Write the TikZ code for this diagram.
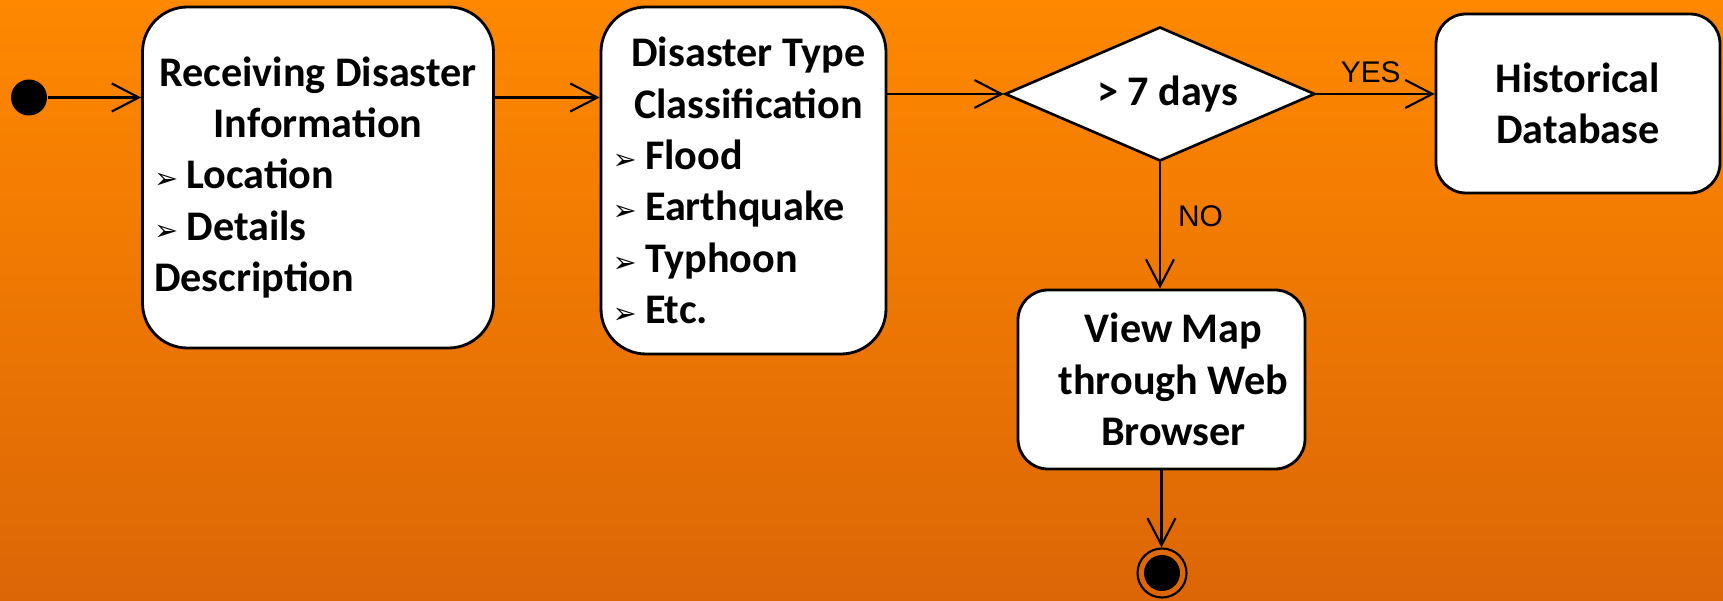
\documentclass[tikz,border=0pt]{standalone}
\usepackage{fontspec}
\setmainfont{Carlito}
\newfontfamily\labelfont{Liberation Sans}
\newfontfamily\symfont{DejaVu Sans}
\usetikzlibrary{arrows.meta,shapes.geometric,positioning}

\definecolor{bgtop}{RGB}{255,136,0}
\definecolor{bgbot}{RGB}{220,102,6}

\newcommand{\bul}{\makebox[0.325cm][l]{\symfont\fontsize{8.2}{8.2}\selectfont ➢}}

\begin{document}
\begin{tikzpicture}[
  font=\bfseries\fontsize{12}{14.6}\selectfont,
  box/.style={draw, line width=0.8pt, fill=white, rounded corners=0.45cm, align=center, inner sep=0pt},
  listbox/.style={box, align=flush left, inner xsep=0.115cm},
  smallbox/.style={box, rounded corners=0.3cm, minimum width=2.86cm, minimum height=1.79cm},
  decision/.style={diamond, aspect=2.3, draw, line width=0.75pt, fill=white, inner sep=0pt, minimum width=3.1cm, minimum height=1.34cm},
  initial/.style={circle, fill=black, inner sep=0pt, minimum size=0.36cm},
  final/.style={circle, draw, line width=0.6pt, inner sep=0pt, minimum size=0.49cm,
    path picture={\fill (path picture bounding box.center) circle (0.18cm);}},
  lbl/.style={font=\labelfont\fontsize{8.5}{10}\selectfont, inner sep=0pt},
  arr/.style={-{Straight Barb[length=0.27cm, width=0.28cm]}, line width=0.6pt}
]
% background
\shade[top color=bgtop, bottom color=bgbot] (0,0) rectangle (17.23,-6.01);

\node[initial] (start) at (0.29,-0.975) {};
\node[listbox, text width=3.28cm, minimum height=3.41cm] (recv) at (3.18,-1.775) {%
  {\centering Receiving Disaster\\Information\par}
  \bul Location\\
  \bul Details\\
  Description};
\node[listbox, text width=2.62cm, minimum height=3.47cm] (classif) at (7.435,-1.805) {%
  {\centering\hspace*{0.1cm}Disaster Type\\\hspace*{0.1cm}Classification\par}
  \bul Flood\\
  \bul Earthquake\\
  \bul Typhoon\\
  \bul Etc.};
\node[decision] (dec) at (11.6,-0.94) {\hspace*{0.15cm}> 7 days};
\node[smallbox, minimum width=2.84cm] (hist) at (15.78,-1.035) {Historical\\Database};
\node[smallbox, minimum width=2.87cm] (view) at (11.615,-3.795) {\hspace*{0.24cm}View Map\\\hspace*{0.24cm}through Web\\\hspace*{0.24cm}Browser};
\node[final] (end) at (11.62,-5.73) {};

\draw[arr] (start) -- (start -| recv.west);
\draw[arr] (start -| recv.east) -- (start -| classif.west);
\draw[arr] (dec.west -| classif.east) -- (dec.west);
\draw[arr] (dec.east) -- node[lbl, pos=0.46, above=0.1cm] {YES} (dec.east -| hist.west);
\draw[arr] (dec.south) -- node[lbl, pos=0.43, right=0.17cm] {NO} (dec.south |- view.north);
\draw[arr] (view.south) -- (view.south |- end.north);
\end{tikzpicture}
\end{document}
